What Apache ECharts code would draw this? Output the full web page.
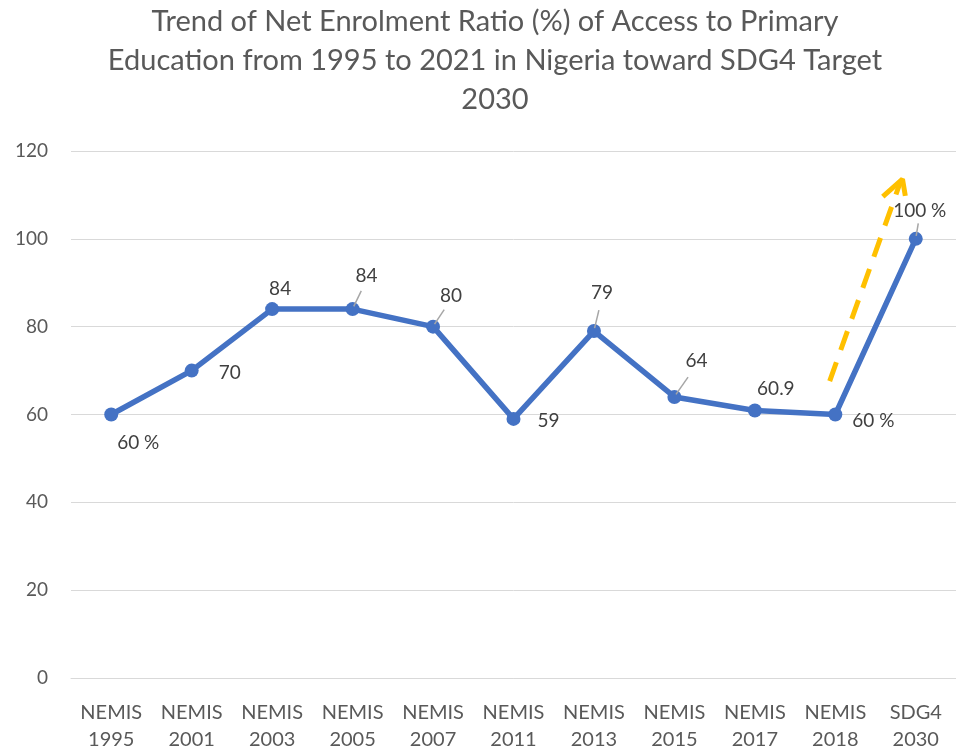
<!DOCTYPE html>
<html><head><meta charset="utf-8">
<script src="https://cdn.jsdelivr.net/npm/echarts@6/dist/echarts.min.js"></script>
<style>html,body{margin:0;padding:0;background:#fff}#c{width:956px;height:753px}</style>
</head><body><div id="c"></div>
<script>
const categories = ['NEMIS\n1995','NEMIS\n2001','NEMIS\n2003','NEMIS\n2005','NEMIS\n2007','NEMIS\n2011','NEMIS\n2013','NEMIS\n2015','NEMIS\n2017','NEMIS\n2018','SDG4\n2030'];
const values = [60, 70, 84, 84, 80, 59, 79, 64, 60.9, 60, 100];
const labelTexts = ['60 %','70','84','84','80','59','79','64','60.9','60 %','100 %'];
const yTicks = [0, 20, 40, 60, 80, 100, 120];
// annotation arrow (trend toward target) in data coordinates: [category position, value]
const arrowShaft = [[8.93, 67.6], [9.81, 113.0]];
const arrowHead = [[9.59, 109.6], [9.835, 113.6], [9.87, 109.8]];
// label offsets (dx, dy) and whether a leader line is drawn
const labelOffsets = [[27,28,0],[38,2,0],[8,-20,0],[14,-33,1],[18,-31,1],[35,2,0],[8,-38,1],[22,-36,1],[21,-22,0],[38,6,0],[4,-28,1]];

const chart = echarts.init(document.getElementById('c'));
chart.setOption({
  animation: false,
  title: {
    text: 'Trend of Net Enrolment Ratio (%) of Access to Primary\nEducation from 1995 to 2021 in Nigeria toward SDG4 Target\n2030',
    left: 490, textAlign: 'center', top: -3,
    textStyle: {fontFamily: 'Lato', fontSize: 29, fontWeight: 'normal', color: '#595959', lineHeight: 39}
  },
  grid: {left: 71, top: 151, width: 891, height: 529, containLabel: false},
  xAxis: [{
    type: 'category', data: categories, boundaryGap: true,
    axisLine: {show: true, lineStyle: {color: '#D9D9D9', width: 1}},
    axisTick: {show: false},
    axisLabel: {fontFamily: 'Lato', fontSize: 20, color: '#595959', lineHeight: 27, margin: 21, interval: 0}
  },{
    type: 'value', min: -0.5, max: 10.5, show: false
  }],
  yAxis: {
    type: 'value', min: 0, max: 120, interval: 20,
    axisLine: {show: false}, axisTick: {show: false},
    axisLabel: {fontFamily: 'Lato', fontSize: 19, color: '#595959', margin: 23,
      formatter: v => yTicks.includes(v) ? String(v) : ''},
    splitLine: {lineStyle: {color: '#D9D9D9', width: 1}}
  },
  series: [{
    type: 'line', data: values, xAxisIndex: 0,
    lineStyle: {color: '#4472C4', width: 5.5},
    itemStyle: {color: '#4472C4'},
    symbol: 'circle', symbolSize: 14, showAllSymbol: true,
    label: {show: true, position: 'inside', fontFamily: 'Lato', fontSize: 19, color: '#404040',
      formatter: p => labelTexts[p.dataIndex]},
    labelLayout: p => ({dx: labelOffsets[p.dataIndex][0], dy: labelOffsets[p.dataIndex][1]}),
    labelLine: {show: false},
    z: 3
  },{
    type: 'line', xAxisIndex: 1, data: arrowShaft, symbol: 'none',
    lineStyle: {color: '#FFC000', width: 5, type: [20, 13]}, z: 2
  },{
    type: 'line', xAxisIndex: 1, data: arrowHead, symbol: 'none',
    lineStyle: {color: '#FFC000', width: 5}, z: 2
  }]
});
// leader lines for labels placed away from their points
const g = [];
values.forEach((v, i) => {
  if (!labelOffsets[i][2]) return;
  const p = chart.convertToPixel({xAxisIndex: 0, yAxisIndex: 0}, [i, v]);
  const dx = labelOffsets[i][0], dy = labelOffsets[i][1];
  const len = Math.hypot(dx, dy);
  const ux = dx / len, uy = dy / len;
  g.push({type: 'line', z: 10, shape: {x1: p[0] + ux * 3, y1: p[1] + uy * 3, x2: p[0] + dx * 0.62, y2: p[1] + dy * 0.55},
    style: {stroke: '#A6A6A6', lineWidth: 1.5}});
});
chart.setOption({graphic: g});
</script></body></html>
